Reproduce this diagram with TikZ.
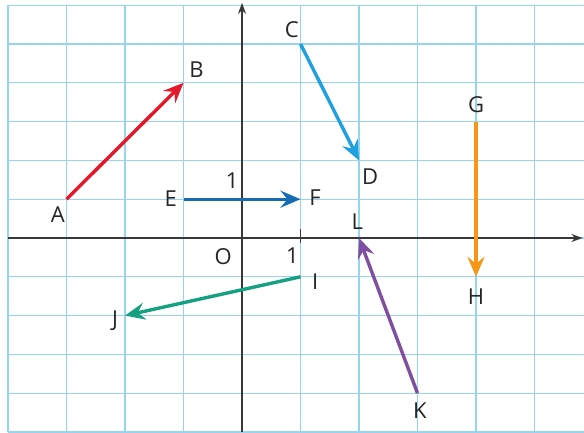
\documentclass[tikz,border=0pt]{standalone}
\usepackage{fontspec}
\setmainfont{Open Sans}
\usetikzlibrary{arrows.meta}
\definecolor{gridblue}{RGB}{150,212,240}
\definecolor{axisgray}{RGB}{55,55,60}
\definecolor{vecred}{RGB}{228,24,40}
\definecolor{veccyan}{RGB}{32,160,222}
\definecolor{vecblue}{RGB}{22,108,180}
\definecolor{vecorange}{RGB}{246,150,22}
\definecolor{vecgreen}{RGB}{22,160,130}
\definecolor{vecpurple}{RGB}{128,78,160}

\begin{document}
\begin{tikzpicture}[x=58.5pt,y=38.8pt]
  \tikzstyle{vec}=[line width=3.4pt,-{Stealth[length=20pt,width=17pt,inset=7pt]}]
  \tikzstyle{axis}=[axisgray,line width=1.6pt,-{Stealth[length=11pt,width=8pt]}]
  \tikzstyle{lbl}=[font=\fontsize{22}{26}\selectfont,inner sep=0pt,text=black!85]
  \useasboundingbox (-4.137,-5) rectangle (5.846,6.134);
  \fill[white] (-4.137,-5) rectangle (5.846,6.134);
  % squared paper
  \foreach \i in {-4,...,5}
    \draw[gridblue,line width=1.3pt] (\i,-5) -- (\i,6);
  \foreach \j in {-5,...,6}
    \draw[gridblue,line width=1.3pt] (-4,\j) -- (5.846,\j);
  % axes
  \coordinate (xs) at (-4,0);
  \coordinate (xe) at (5.82,0);
  \coordinate (ys) at (0,-5);
  \coordinate (ye) at (0,6.06);
  \draw[axis] (xs) -- (xe);
  \draw[axis] (ys) -- (ye);
  \coordinate (t1) at (1,-0.12);
  \coordinate (t2) at (1,0.22);
  \draw[axisgray,line width=1.4pt] (t1) -- (t2);
  % points
  \coordinate (A) at (-3,1);
  \coordinate (B) at (-1,4);
  \coordinate (C) at (1,5);
  \coordinate (D) at (2,2);
  \coordinate (E) at (-1,1);
  \coordinate (F) at (1,1);
  \coordinate (G) at (4,3);
  \coordinate (H) at (4,-1);
  \coordinate (I) at (1,-1);
  \coordinate (J) at (-2,-2);
  \coordinate (K) at (3,-4);
  \coordinate (L) at (2,0);
  % vectors
  \draw[vec,vecred] (A) -- (B);
  \draw[vec,veccyan] (C) -- (D);
  \draw[vec,vecblue] (E) -- (F);
  \draw[vec,vecorange] (G) -- (H);
  \draw[vec,vecgreen] (I) -- (J);
  \draw[vec,vecpurple] (K) -- (L);
  % labels
  \node[lbl] (lA) at (-3.15,0.60) {A};
  \node[lbl] (lB) at (-0.78,4.33) {B};
  \node[lbl] (lC) at (0.85,5.38) {C};
  \node[lbl] (lD) at (2.19,1.58) {D};
  \node[lbl] (lE) at (-1.22,1.02) {E};
  \node[lbl] (lF) at (1.25,1.03) {F};
  \node[lbl] (lG) at (4.0,3.43) {G};
  \node[lbl] (lH) at (4.0,-1.52) {H};
  \node[lbl] (lI) at (1.25,-1.13) {I};
  \node[lbl] (lJ) at (-2.17,-2.12) {J};
  \node[lbl] (lK) at (3.04,-4.45) {K};
  \node[lbl] (lL) at (1.97,0.42) {L};
  \node[lbl] (lO) at (-0.32,-0.49) {O};
  \node[lbl] (lx1) at (0.86,-0.45) {1};
  \node[lbl] (ly1) at (-0.17,1.49) {1};
\end{tikzpicture}
\end{document}
